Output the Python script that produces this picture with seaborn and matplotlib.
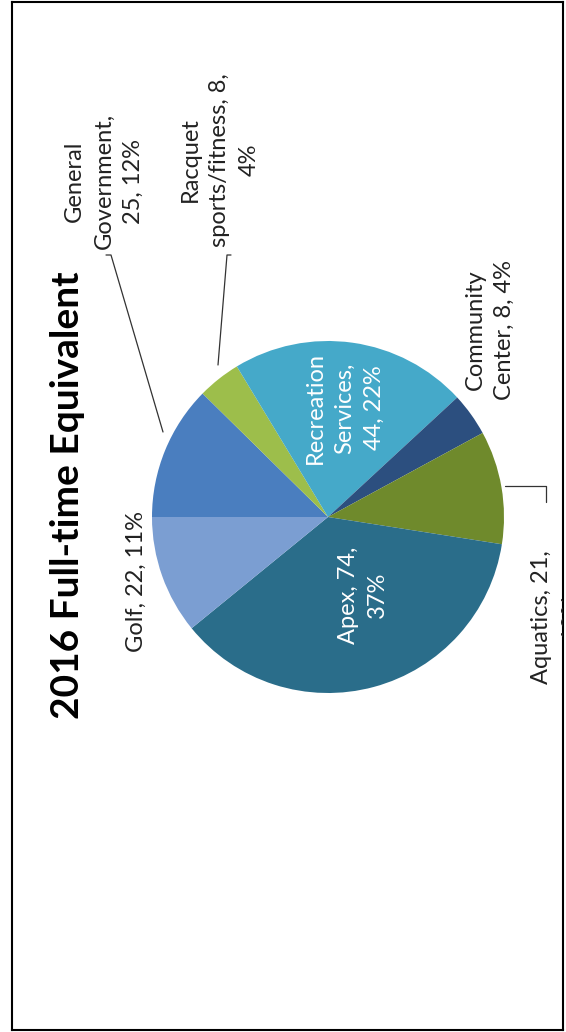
import matplotlib
matplotlib.use("Agg")
import matplotlib.pyplot as plt
import seaborn as sns

sns.set_theme(style="white")
plt.rcParams['font.family'] = ['Lato', 'DejaVu Sans']

# data (Excel order, clockwise from 12 o'clock of the unrotated chart)
categories = ["General Government", "Racquet sports/fitness", "Recreation Services",
              "Community Center", "Aquatics", "Apex", "Golf"]
fte = [25, 8, 44, 8, 21, 74, 22]
pct = ["12%", "4%", "22%", "4%", "10%", "37%", "11%"]
colors = ["#4A7EBF", "#9DBE4B", "#45A9C9", "#2C4F7F", "#6F8A2C", "#2A6D8A", "#7B9ED2"]

title = "2016 Full-time Equivalent"
label_text = [
    "General\nGovernment,\n25, 12%",
    "Racquet\nsports/fitness, 8,\n4%",
    "Recreation\nServices,\n44, 22%",
    "Community\nCenter, 8, 4%",
    "Aquatics, 21,\n10%",
    "Apex, 74,\n37%",
    "Golf, 22, 11%",
]

W, H = 566, 1032
fig = plt.figure(figsize=(W / 100, H / 100), dpi=100)
# axes = the black frame, data units = image pixels (y downwards)
x0, y0, x1, y1 = 12, 2, 563, 1030
ax = fig.add_axes([x0 / W, 1 - y1 / H, (x1 - x0) / W, (y1 - y0) / H])

# whole chart is turned 90 deg counter-clockwise, y is inverted -> counterclock=True
ax.pie(fte, colors=colors, startangle=180, counterclock=True,
       center=(328, 517), radius=176, frame=True,
       wedgeprops=dict(linewidth=0))

ax.set_xlim(x0, x1)
ax.set_ylim(y1, y0)
ax.set_xticks([])
ax.set_yticks([])
for s in ax.spines.values():
    s.set_visible(True)
    s.set_color("black")
    s.set_linewidth(1.5)

ax.text(68, 495, title, rotation=90, ha="center", va="center",
        fontsize=28, fontweight="bold", color="black")

# label positions (image pixels)
lab_xy = [(104, 181), (220, 160), (345, 408), (490, 330), (556, 617), (363, 595), (136, 582)]
lab_col = ["#222222", "#222222", "white", "#222222", "#222222", "white", "#222222"]
for t, (lx, ly), c in zip(label_text, lab_xy, lab_col):
    ax.text(lx, ly, t, rotation=90, ha="center", va="center", multialignment="center",
            fontsize=17, color=c, linespacing=1.5, clip_on=True)

# leader lines
lk = dict(color="#333333", lw=0.9)
ax.plot([163, 111, 106], [432, 255, 255], **lk)
ax.plot([218, 227, 231], [365, 255, 255], **lk)
ax.plot([505, 546, 546], [486, 486, 502], **lk)

fig.savefig("out.png", dpi=100)
